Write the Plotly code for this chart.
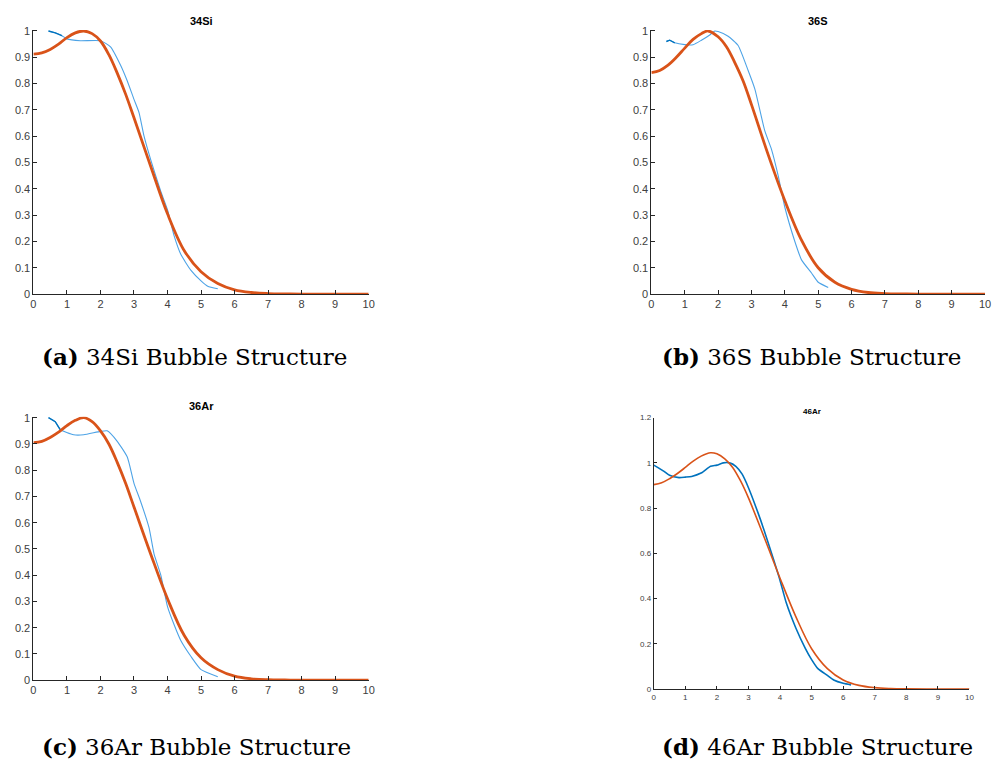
import plotly.graph_objects as go

# ---------------- data ----------------
titles = ["34Si", "36S", "36Ar", "46Ar"]
captions_bold = ["(a)", "(b)", "(c)", "(d)"]
captions_text = ["34Si Bubble Structure", "36S Bubble Structure",
                 "36Ar Bubble Structure", "46Ar Bubble Structure"]

# orange (fit) curves
fit_x_a = [0, 0.25, 0.5, 0.75, 1.0, 1.25, 1.5, 1.75, 2.0, 2.25, 2.5, 2.75, 3.0, 3.5, 4.0, 4.5, 5.0, 5.5, 6.0, 6.5, 7.0, 7.5, 8.0, 9.0, 10.0]
fit_a = [0.912, 0.917, 0.93, 0.95, 0.975, 0.993, 1.0, 0.99, 0.962, 0.91, 0.84, 0.76, 0.67, 0.485, 0.305, 0.165, 0.085, 0.04, 0.016, 0.006, 0.002, 0.0005, 0, 0, 0]
fit_x_b = [0, 0.25, 0.5, 0.75, 1.0, 1.25, 1.5, 1.7, 2.0, 2.25, 2.5, 2.75, 3.0, 3.5, 4.0, 4.5, 5.0, 5.5, 6.0, 6.5, 7.0, 7.5, 8.0, 9.0, 10.0]
fit_b = [0.842, 0.85, 0.87, 0.9, 0.935, 0.968, 0.99, 1.0, 0.978, 0.94, 0.88, 0.81, 0.72, 0.53, 0.355, 0.205, 0.1, 0.045, 0.018, 0.006, 0.002, 0.0005, 0, 0, 0]
fit_x_c = [0, 0.25, 0.5, 0.75, 1.0, 1.25, 1.5, 1.75, 2.0, 2.25, 2.5, 2.75, 3.0, 3.5, 4.0, 4.5, 5.0, 5.5, 6.0, 6.5, 7.0, 7.5, 8.0, 9.0, 10.0]
fit_c = [0.905, 0.91, 0.925, 0.945, 0.97, 0.99, 1.0, 0.985, 0.95, 0.9, 0.83, 0.75, 0.66, 0.48, 0.31, 0.17, 0.085, 0.04, 0.015, 0.005, 0.0015, 0.0005, 0, 0, 0]
fit_x_d = [0, 0.25, 0.5, 0.75, 1.0, 1.25, 1.5, 1.8, 2.0, 2.25, 2.5, 2.75, 3.0, 3.5, 4.0, 4.5, 5.0, 5.5, 6.0, 6.5, 7.0, 7.5, 8.0, 9.0, 10.0]
fit_d = [0.904, 0.912, 0.93, 0.953, 0.98, 1.008, 1.03, 1.045, 1.04, 1.018, 0.98, 0.92, 0.845, 0.67, 0.49, 0.32, 0.178, 0.09, 0.04, 0.016, 0.006, 0.002, 0.0005, 0, 0]

# blue (data) curves
data_x_a = [0.45, 0.65, 0.85, 1.0, 1.4, 2.0, 2.3, 2.6, 2.8, 3.0, 3.15, 3.3, 3.5, 3.8, 4.0, 4.2, 4.4, 4.7, 5.0, 5.2, 5.5]
data_a = [1.0, 0.993, 0.982, 0.97, 0.963, 0.963, 0.94, 0.87, 0.81, 0.74, 0.69, 0.6, 0.51, 0.39, 0.32, 0.22, 0.15, 0.09, 0.05, 0.03, 0.02]
data_x_b = [0.45, 0.55, 0.7, 1.0, 1.25, 1.5, 1.75, 1.9, 2.0, 2.3, 2.6, 2.9, 3.1, 3.4, 3.6, 3.8, 4.0, 4.3, 4.5, 4.8, 5.0, 5.3]
data_b = [0.96, 0.965, 0.955, 0.948, 0.948, 0.965, 0.985, 1.0, 0.998, 0.98, 0.945, 0.85, 0.78, 0.62, 0.55, 0.45, 0.33, 0.2, 0.13, 0.08, 0.045, 0.025]
data_x_c = [0.45, 0.65, 0.8, 1.2, 1.5, 2.0, 2.2, 2.5, 2.8, 3.0, 3.2, 3.45, 3.6, 3.8, 4.0, 4.2, 4.4, 4.7, 5.0, 5.5]
data_c = [1.0, 0.985, 0.955, 0.935, 0.935, 0.948, 0.95, 0.91, 0.85, 0.75, 0.68, 0.58, 0.48, 0.40, 0.28, 0.21, 0.15, 0.09, 0.04, 0.013]
data_x_d = [0, 0.3, 0.5, 0.8, 1.0, 1.2, 1.5, 1.8, 2.0, 2.2, 2.4, 2.6, 2.8, 3.0, 3.3, 3.5, 3.8, 4.0, 4.2, 4.5, 4.8, 5.0, 5.2, 5.5, 5.7, 6.0, 6.25]
data_d = [0.99, 0.965, 0.945, 0.935, 0.937, 0.94, 0.955, 0.985, 0.99, 1.0, 1.0, 0.985, 0.95, 0.89, 0.78, 0.70, 0.57, 0.48, 0.38, 0.27, 0.18, 0.13, 0.09, 0.06, 0.04, 0.025, 0.018]

x_ticks = list(range(0, 11))
y_ticks_abc = [0, 0.1, 0.2, 0.3, 0.4, 0.5, 0.6, 0.7, 0.8, 0.9, 1]
y_labels_abc = ["0", "0.1", "0.2", "0.3", "0.4", "0.5", "0.6", "0.7", "0.8", "0.9", "1"]
y_ticks_d = [0, 0.2, 0.4, 0.6, 0.8, 1.0, 1.2]
y_labels_d = ["0", "0.2", "0.4", "0.6", "0.8", "1", "1.2"]

# ---------------- figure ----------------
W, H = 994, 763
ORANGE = "#D95319"
BLUE_LIGHT = "#4DA3E6"
BLUE = "#0072BD"

# panel boxes in pixels: (left, right, top, bottom)
boxes = [(30.7, 369.0, 25.3, 293.3),
         (654.3, 991.0, 25.3, 293.3),
         (30.7, 369.0, 417.7, 685.0),
         (656.7, 975.3, 418.7, 694.0)]
title_offsets = [9.5, 9.5, 10.5, 6.0]

fig = go.Figure()

series = [
    (fit_x_a, fit_a, data_x_a, data_a),
    (fit_x_b, fit_b, data_x_b, data_b),
    (fit_x_c, fit_c, data_x_c, data_c),
    (fit_x_d, fit_d, data_x_d, data_d),
]

for i, (fx, fy, dx, dy) in enumerate(series):
    xa = "x" if i == 0 else f"x{i+1}"
    ya = "y" if i == 0 else f"y{i+1}"
    if i < 3:
        fig.add_trace(go.Scatter(x=dx, y=dy, mode="lines", xaxis=xa, yaxis=ya,
                                 line=dict(color=BLUE_LIGHT, width=1.1, shape="spline", smoothing=0.5),
                                 showlegend=False))
        fig.add_trace(go.Scatter(x=dx[:3], y=dy[:3], mode="lines", xaxis=xa, yaxis=ya,
                                 line=dict(color=BLUE, width=1.4),
                                 showlegend=False))
        fig.add_trace(go.Scatter(x=fx, y=fy, mode="lines", xaxis=xa, yaxis=ya,
                                 line=dict(color=ORANGE, width=2.8, shape="spline", smoothing=1.0),
                                 showlegend=False))
    else:
        fig.add_trace(go.Scatter(x=dx, y=dy, mode="lines", xaxis=xa, yaxis=ya,
                                 line=dict(color=BLUE, width=1.6, shape="spline", smoothing=0.6),
                                 showlegend=False))
        fig.add_trace(go.Scatter(x=fx, y=fy, mode="lines", xaxis=xa, yaxis=ya,
                                 line=dict(color=ORANGE, width=1.6, shape="spline", smoothing=1.0),
                                 showlegend=False))

layout = dict(width=W, height=H, margin=dict(l=0, r=0, t=0, b=0),
              paper_bgcolor="white", plot_bgcolor="white", showlegend=False)

annotations = []
for i, (l, r, t, b) in enumerate(boxes):
    xk = "xaxis" if i == 0 else f"xaxis{i+1}"
    yk = "yaxis" if i == 0 else f"yaxis{i+1}"
    small = (i == 3)
    tfs = 8 if small else 11
    layout[xk] = dict(domain=[l / W, r / W], range=[0, 10], tickvals=x_ticks,
                      ticks="inside", ticklen=3 if small else 4, tickcolor="#262626",
                      showline=True, linecolor="#262626", linewidth=1,
                      showgrid=False, zeroline=False,
                      tickfont=dict(family="Liberation Sans, Arial", size=tfs, color="#404040"),
                      anchor="y" if i == 0 else f"y{i+1}", fixedrange=True)
    if small:
        yt, yl, yr = y_ticks_d, y_labels_d, [0, 1.2]
    else:
        yt, yl, yr = y_ticks_abc, y_labels_abc, [0, 1.004]
    layout[yk] = dict(domain=[1 - b / H, 1 - t / H], range=yr, tickvals=yt, ticktext=yl,
                      ticks="inside", ticklen=3 if small else 4, tickcolor="#262626",
                      showline=True, linecolor="#262626", linewidth=1,
                      showgrid=False, zeroline=False,
                      tickfont=dict(family="Liberation Sans, Arial", size=tfs, color="#404040"),
                      anchor="x" if i == 0 else f"x{i+1}", fixedrange=True)
    # title
    annotations.append(dict(text=f"<b>{titles[i]}</b>", x=(l + r) / 2 / W,
                            y=1 - (t - title_offsets[i]) / H,
                            xref="paper", yref="paper", showarrow=False,
                            xanchor="center", yanchor="middle",
                            font=dict(family="Liberation Sans, Arial", size=tfs, color="#000000")))

caps = [(193, 357), (816, 357), (195, 752), (822, 752)]
for i, (cx, cy) in enumerate(caps):
    annotations.append(dict(text=f"<b>{captions_bold[i]}</b> {captions_text[i]}",
                            x=cx / W, y=1 - cy / H, xref="paper", yref="paper",
                            showarrow=False, xanchor="center", yanchor="middle",
                            font=dict(family="DejaVu Serif, Liberation Serif, serif", size=23, color="#000000")))

layout["annotations"] = annotations
fig.update_layout(**layout)
fig.write_html("out.html")
